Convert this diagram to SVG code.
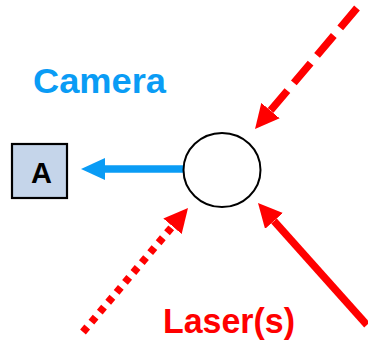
<svg xmlns="http://www.w3.org/2000/svg" width="368" height="342" viewBox="0 0 368 342">
<style>
.lbl{font-family:"Liberation Sans",Arial,sans-serif;font-weight:bold}
.red{stroke:#ff0000;fill:none;stroke-width:7.5}
</style>
<defs>
<marker id="hr" markerUnits="userSpaceOnUse" viewBox="0 0 24 24" refX="0" refY="12" markerWidth="24" markerHeight="24" orient="auto">
<path d="M0,0 L24,12 L0,24 z" fill="#ff0000"/>
</marker>
<marker id="hb" markerUnits="userSpaceOnUse" viewBox="0 0 24 22" refX="0" refY="11" markerWidth="24" markerHeight="22" orient="auto">
<path d="M0,0 L24,11 L0,22 z" fill="#0a9cf5"/>
</marker>
</defs>
<rect width="368" height="342" fill="#ffffff"/>
<g id="connectors">
<line x1="183" y1="169" x2="105" y2="169" stroke="#0a9cf5" stroke-width="7.5" marker-end="url(#hb)"/>
<line x1="357" y1="8" x2="270.5" y2="110.6" class="red" stroke-dasharray="26 10" marker-end="url(#hr)"/>
<line x1="83" y1="332" x2="172.5" y2="226.3" class="red" stroke-width="6.5" stroke-dasharray="6.5 6.5" marker-end="url(#hr)"/>
<line x1="367" y1="325" x2="274" y2="220.9" class="red" marker-end="url(#hr)"/>
</g>
<g id="nodeA">
<rect x="12" y="144" width="55" height="54" fill="#c5d5ea" stroke="#000" stroke-width="2.2"/>
<text x="41.5" y="183" class="lbl" font-size="29" text-anchor="middle" fill="#000">A</text>
</g>
<g id="circle">
<ellipse cx="222" cy="170" rx="38.5" ry="37" fill="#fff" stroke="#000" stroke-width="2"/>
</g>
<g id="camera">
<text x="33" y="93" class="lbl" font-size="35" fill="#0a9cf5" textLength="133" lengthAdjust="spacingAndGlyphs">Camera</text>
</g>
<g id="laser">
<text x="163" y="333" class="lbl" font-size="35" fill="#ff0000" textLength="132" lengthAdjust="spacingAndGlyphs">Laser(s)</text>
</g>
</svg>
